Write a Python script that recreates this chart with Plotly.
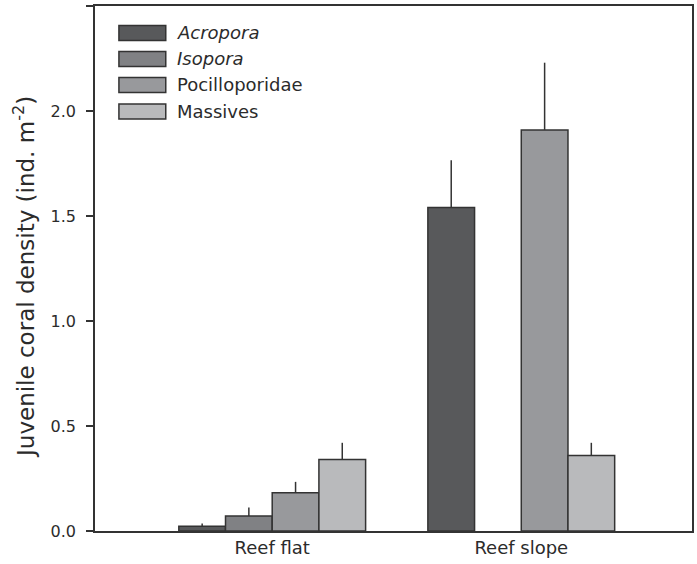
import plotly.graph_objects as go

habitats = ["Reef flat", "Reef slope"]
taxa = ["Acropora", "Isopora", "Pocilloporidae", "Massives"]
taxa_labels = ["<i>Acropora</i>", "<i>Isopora</i>", "Pocilloporidae", "Massives"]
acropora = [0.023, 1.54]
isopora = [0.072, None]
pocilloporidae = [0.182, 1.91]
massives = [0.34, 0.36]
acropora_err = [0.013, 0.226]
isopora_err = [0.04, None]
pocilloporidae_err = [0.052, 0.32]
massives_err = [0.08, 0.06]
y_ticks = [0.0, 0.5, 1.0, 1.5, 2.0, 2.5]
y_title = "Juvenile coral density (ind. m<sup>-2</sup>)"

colors = ["#58595b", "#808184", "#98999c", "#b9babc"]
edge = "#333333"
txt = "#2b2b2b"
font_family = "'DejaVu Sans', sans-serif"

series = [acropora, isopora, pocilloporidae, massives]
errors = [acropora_err, isopora_err, pocilloporidae_err, massives_err]

fig = go.Figure()
for name, vals, errs, col in zip(taxa, series, errors, colors):
    fig.add_trace(go.Bar(
        x=habitats, y=vals, name=name,
        marker=dict(color=col, line=dict(color=edge, width=1.5)),
        error_y=dict(type="data", symmetric=False, array=errs,
                     arrayminus=[0 if e is not None else None for e in errs],
                     color=edge, thickness=1.5, width=0),
        showlegend=False,
    ))

W, H = 697, 564
L, R, T, B = 95, 694, 6, 531.5

def px(x):
    return (x - L) / (R - L)

def py(y):
    return (B - y) / (B - T)

shapes = []
annotations = []
row_centers = [33, 59, 85, 111.5]
for lab, col, cy in zip(taxa_labels, colors, row_centers):
    shapes.append(dict(type="rect", xref="paper", yref="paper",
                       x0=px(119), x1=px(166), y0=py(cy + 7.5), y1=py(cy - 7.5),
                       fillcolor=col, line=dict(color=edge, width=1.5)))
    annotations.append(dict(text=lab, xref="paper", yref="paper",
                            x=px(175), y=py(cy), xanchor="left", yanchor="middle",
                            showarrow=False, font=dict(size=18, color=txt, family=font_family)))

annotations.append(dict(text=y_title, xref="paper", yref="paper",
                        x=px(24), y=py(277), xanchor="center", yanchor="middle",
                        textangle=-90, showarrow=False,
                        font=dict(size=23, color=txt, family=font_family)))

fig.update_layout(
    width=W, height=H,
    margin=dict(l=L, r=W - R, t=T, b=H - B, pad=0),
    plot_bgcolor="white", paper_bgcolor="white",
    barmode="group", bargap=0.25, bargroupgap=0,
    font=dict(family=font_family, size=17, color=txt),
    shapes=shapes, annotations=annotations,
    xaxis=dict(range=[-0.7115, 1.6855], showline=True, linecolor=edge, linewidth=1.5,
               mirror=True, ticks="", showgrid=False, zeroline=False,
               tickfont=dict(size=18, color=txt)),
    yaxis=dict(range=[0, 2.5], tickvals=y_ticks, ticktext=[f"{v:.1f}" for v in y_ticks],
               showline=True, linecolor=edge, linewidth=1.5, mirror=True,
               ticks="outside", ticklen=7, tickwidth=1.5, tickcolor=edge,
               ticklabelstandoff=7,
               showgrid=False, zeroline=False,
               tickfont=dict(size=16, color=txt)),
)

fig.write_html("out.html", config={"displayModeBar": False},
               post_script="document.body.style.margin='0';document.body.style.overflow='hidden';")
